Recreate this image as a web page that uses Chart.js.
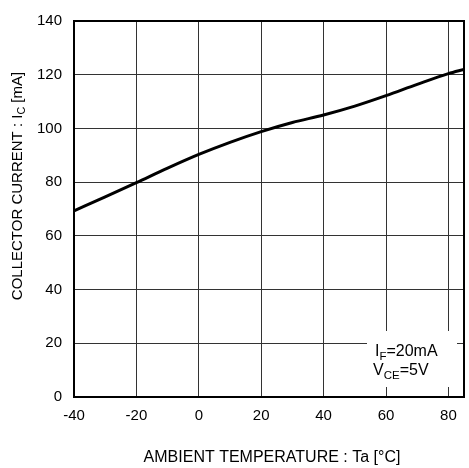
<!DOCTYPE html>
<html><head><meta charset="utf-8">
<script src="https://cdn.jsdelivr.net/npm/chart.js@4"></script>
<style>html,body{margin:0;padding:0;background:#fff}#w{width:469px;height:468px}</style>
</head><body><div id="w"><canvas id="c"></canvas></div>
<script>
const temps = [-40, -30, -20, -10, 0, 10, 20, 30, 40, 50, 60, 70, 80, 85];
const currents = [69.3, 74.5, 79.8, 85.2, 90.3, 94.8, 98.8, 102.2, 105.0, 108.3, 112.2, 116.4, 120.4, 122.0];
const xTicks = [-40, -20, 0, 20, 40, 60, 80];
const yTicks = [0, 20, 40, 60, 80, 100, 120, 140];
const FONT = '"Liberation Sans", Arial, sans-serif';

function subText(ctx, parts, x, y, size) {
  let cx = x;
  for (const [t, sub] of parts) {
    ctx.font = (sub ? size * 0.72 : size) + 'px ' + FONT;
    ctx.fillText(t, cx, sub ? y + size * 0.22 : y);
    cx += ctx.measureText(t).width;
  }
  return cx - x;
}
function measureParts(ctx, parts, size) {
  let w = 0;
  for (const [t, sub] of parts) {
    ctx.font = (sub ? size * 0.72 : size) + 'px ' + FONT;
    w += ctx.measureText(t).width;
  }
  return w;
}

const overlay = {
  id: 'overlay',
  afterDraw(chart) {
    const ctx = chart.ctx, a = chart.chartArea;
    ctx.save();
    ctx.textBaseline = 'alphabetic';
    ctx.textAlign = 'left';
    ctx.fillStyle = '#fff';
    ctx.fillRect(367, 331, 90, 56);
    ctx.fillStyle = '#000';
    subText(ctx, [['I', false], ['F', true], ['=20mA', false]], 375, 356, 16);
    subText(ctx, [['V', false], ['CE', true], ['=5V', false]], 373, 375, 16);
    ctx.strokeStyle = '#000';
    ctx.lineWidth = 2;
    ctx.strokeRect(a.left, a.top, a.right - a.left, a.bottom - a.top);
    ctx.font = '16px ' + FONT;
    ctx.textAlign = 'center';
    ctx.fillText('AMBIENT TEMPERATURE : Ta [°C]', 272, 462);
    ctx.textAlign = 'left';
    const yParts = [['COLLECTOR CURRENT : I', false], ['C', true], [' [mA]', false]];
    const w = measureParts(ctx, yParts, 15);
    ctx.translate(22, 186);
    ctx.rotate(-Math.PI / 2);
    subText(ctx, yParts, -w / 2, 0, 15);
    ctx.restore();
  }
};

new Chart(document.getElementById('c'), {
  type: 'line',
  data: {
    datasets: [{
      data: temps.map((t, i) => ({x: t, y: currents[i]})),
      borderColor: '#000',
      borderWidth: 3,
      pointRadius: 0,
      tension: 0.4,
      cubicInterpolationMode: 'monotone',
      fill: false
    }]
  },
  options: {
    responsive: true,
    maintainAspectRatio: false,
    animation: false,
    layout: {padding: {top: 13, right: 5, left: 0, bottom: 0}},
    plugins: {legend: {display: false}, tooltip: {enabled: false}},
    scales: {
      x: {
        type: 'linear', min: -40, max: 85,
        afterBuildTicks: s => { s.ticks = xTicks.map(v => ({value: v})); },
        afterFit: s => { s.height = 71; },
        grid: {color: '#333', lineWidth: 1, drawTicks: false},
        border: {display: false},
        ticks: {color: '#000', font: {family: FONT, size: 15}, padding: 10, maxRotation: 0, autoSkip: false}
      },
      y: {
        type: 'linear', min: 0, max: 140,
        afterBuildTicks: s => { s.ticks = yTicks.map(v => ({value: v})); },
        afterFit: s => { s.width = 74; },
        grid: {color: '#333', lineWidth: 1, drawTicks: false},
        border: {display: false},
        ticks: {color: '#000', font: {family: FONT, size: 15}, padding: 12, autoSkip: false}
      }
    }
  },
  plugins: [overlay]
});
</script>
</body></html>
